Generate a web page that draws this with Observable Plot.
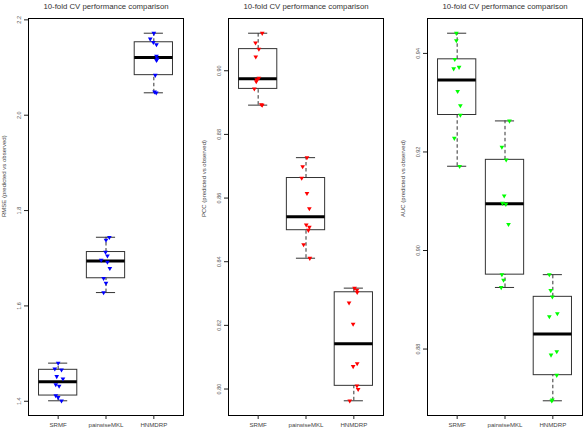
<!DOCTYPE html>
<html><head><meta charset="utf-8">
<script src="https://cdn.jsdelivr.net/npm/d3@7"></script>
<script src="https://cdn.jsdelivr.net/npm/@observablehq/plot@0.6"></script>
<style>
html,body{margin:0;padding:0;overflow:hidden;background:#fff;}
#row{display:flex;width:600px;height:430px;}
#row svg{flex:none;display:block;}
</style></head><body><div id="row"></div>
<script>
const methods = ["SRMF", "pairwiseMKL", "HNMDRP"];
const titleText = "10-fold CV performance comparison";

// RMSE panel
const rmseSRMF     = [1.480, 1.468, 1.466, 1.452, 1.447, 1.435, 1.432, 1.412, 1.408, 1.401];
const rmsePairwise = [1.744, 1.738, 1.713, 1.705, 1.696, 1.692, 1.679, 1.658, 1.648, 1.628];
const rmseHNMDRP   = [2.172, 2.160, 2.153, 2.148, 2.124, 2.118, 2.115, 2.084, 2.049, 2.047];
const rmseJitterSRMF     = [0.00, -0.07, 0.07, -0.03, 0.10, -0.05, 0.02, -0.05, 0.00, 0.07];
const rmseJitterPairwise = [0.07, 0.00, -0.01, 0.03, -0.10, 0.03, 0.08, -0.05, 0.00, -0.05];
const rmseJitterHNMDRP   = [0.00, -0.075, -0.01, 0.055, 0.055, 0.07, 0.055, 0.03, 0.015, 0.05];
const rmseTicks = [1.4, 1.6, 1.8, 2.0, 2.2];
const rmseTickLabels = ["1.4", "1.6", "1.8", "2.0", "2.2"];

// PCC panel
const pccSRMF     = [0.9118, 0.9088, 0.9068, 0.9044, 0.8977, 0.8972, 0.8966, 0.8943, 0.8894, 0.8892];
const pccPairwise = [0.8727, 0.8699, 0.8663, 0.8615, 0.8567, 0.8516, 0.8509, 0.8499, 0.8454, 0.8411];
const pccHNMDRP   = [0.8317, 0.8311, 0.8304, 0.8271, 0.8204, 0.8080, 0.8071, 0.8010, 0.7999, 0.7963];
const pccJitterSRMF     = [0.085, -0.055, 0.015, -0.05, 0.015, -0.03, -0.04, -0.08, 0.065, 0.085];
const pccJitterPairwise = [0.02, -0.07, -0.09, 0.02, 0.07, 0.005, 0.07, 0.05, -0.05, 0.08];
const pccJitterHNMDRP   = [0.015, 0.065, 0.07, -0.10, -0.015, 0.07, -0.015, 0.065, 0.09, -0.085];
const pccTicks = [0.80, 0.82, 0.84, 0.86, 0.88, 0.90];
const pccTickLabels = ["0.80", "0.82", "0.84", "0.86", "0.88", "0.90"];

// AUC panel
const aucSRMF     = [0.9441, 0.9426, 0.9388, 0.9372, 0.9369, 0.9323, 0.9294, 0.9275, 0.9228, 0.9171];
const aucPairwise = [0.9263, 0.9210, 0.9184, 0.9111, 0.9096, 0.9094, 0.9053, 0.8951, 0.8940, 0.8925];
const aucHNMDRP   = [0.8951, 0.8919, 0.8906, 0.8872, 0.8866, 0.8795, 0.8788, 0.8747, 0.8697, 0.8695];
const aucJitterSRMF     = [-0.017, -0.017, -0.05, 0.04, -0.073, 0.01, 0.067, 0.067, -0.059, 0.052];
const aucJitterPairwise = [0.094, -0.065, 0.025, -0.017, -0.052, 0.019, 0.073, -0.065, -0.031, -0.079];
const aucJitterHNMDRP   = [-0.073, -0.044, -0.01, 0.094, -0.073, 0.082, -0.038, 0.082, -0.01, -0.023];
const aucTicks = [0.88, 0.90, 0.92, 0.94];
const aucTickLabels = ["0.88", "0.90", "0.92", "0.94"];

const FONT = "'Liberation Sans', Arial, Helvetica, sans-serif";

// Tukey five-number summary (as R's boxplot)
function fivenum(a) {
  const x = a.slice().sort((p, q) => p - q);
  const n = x.length;
  const n4 = Math.floor((n + 3) / 2) / 2;
  const d = [1, n4, (n + 1) / 2, n + 1 - n4, n];
  return d.map(k => 0.5 * (x[Math.floor(k) - 1] + x[Math.ceil(k) - 1]));
}

function panel(cfg) {
  const stats = cfg.groups.map((g, gi) => {
    const f = fivenum(g);
    return {i: gi + 1, lo: f[0], q1: f[1], med: f[2], q3: f[3], hi: f[4]};
  });
  const pts = cfg.groups.flatMap((g, gi) => g.map((v, k) => ({x: gi + 1 + cfg.jitter[gi][k], y: v})));
  const all = cfg.groups.flat();
  const mn = d3.min(all), mx = d3.max(all), pad = (mx - mn) * 0.04;
  return Plot.plot({
    width: cfg.width, height: 430,
    marginLeft: 28, marginRight: cfg.marginRight, marginTop: 18, marginBottom: 15,
    style: {fontFamily: FONT, background: "white", color: "#222"},
    x: {domain: [0.38, 3.62]},
    y: {domain: [mn - pad, mx + pad]},
    marks: [
      Plot.ruleX(stats, {x: "i", y1: "q3", y2: "hi", stroke: "#333", strokeDasharray: "3.5,2.5"}),
      Plot.ruleX(stats, {x: "i", y1: "lo", y2: "q1", stroke: "#333", strokeDasharray: "3.5,2.5"}),
      Plot.ruleY(stats, {y: "hi", x1: d => d.i - 0.2, x2: d => d.i + 0.2, stroke: "#333"}),
      Plot.ruleY(stats, {y: "lo", x1: d => d.i - 0.2, x2: d => d.i + 0.2, stroke: "#333"}),
      Plot.rect(stats, {x1: d => d.i - 0.4, x2: d => d.i + 0.4, y1: "q1", y2: "q3", fill: "none", stroke: "#333"}),
      Plot.ruleY(stats, {y: "med", x1: d => d.i - 0.4, x2: d => d.i + 0.4, stroke: "black", strokeWidth: 3}),
      Plot.dot(pts, {x: "x", y: "y", symbol: "triangle", rotate: 180, r: 1.75, fill: cfg.color, stroke: "none"}),
      Plot.frame({stroke: "black"}),
      Plot.axisX({ticks: [1, 2, 3], tickFormat: i => methods[i - 1], tickSize: 4, tickPadding: 3, fontSize: 6.1, label: null, fill: "#444"}),
      Plot.axisY({ticks: cfg.ticks, tickFormat: v => cfg.tickLabels[cfg.ticks.indexOf(v)], tickRotate: -90, tickSize: 4, tickPadding: 3.5, fontSize: 5.5, label: null, fill: "#555"}),
      Plot.text([titleText], {text: d => d, frameAnchor: "top", dy: -12.5, fontSize: 7.8, lineAnchor: "middle", fill: "#333"}),
      Plot.text([cfg.label], {text: d => d, frameAnchor: "left", dx: -24.5, rotate: -90, fontSize: 6, lineAnchor: "middle", fill: "#444"})
    ]
  });
}

const row = document.getElementById("row");
row.append(panel({
  groups: [rmseSRMF, rmsePairwise, rmseHNMDRP],
  jitter: [rmseJitterSRMF, rmseJitterPairwise, rmseJitterHNMDRP],
  ticks: rmseTicks, tickLabels: rmseTickLabels,
  label: "RMSE (predicted vs observed)", color: "#0000ff", width: 200, marginRight: 17
}));
row.append(panel({
  groups: [pccSRMF, pccPairwise, pccHNMDRP],
  jitter: [pccJitterSRMF, pccJitterPairwise, pccJitterHNMDRP],
  ticks: pccTicks, tickLabels: pccTickLabels,
  label: "PCC (predicted vs observed)", color: "#ff0000", width: 199, marginRight: 16
}));
row.append(panel({
  groups: [aucSRMF, aucPairwise, aucHNMDRP],
  jitter: [aucJitterSRMF, aucJitterPairwise, aucJitterHNMDRP],
  ticks: aucTicks, tickLabels: aucTickLabels,
  label: "AUC (predicted vs observed)", color: "#00ff00", width: 200, marginRight: 17
}));
</script></body></html>
